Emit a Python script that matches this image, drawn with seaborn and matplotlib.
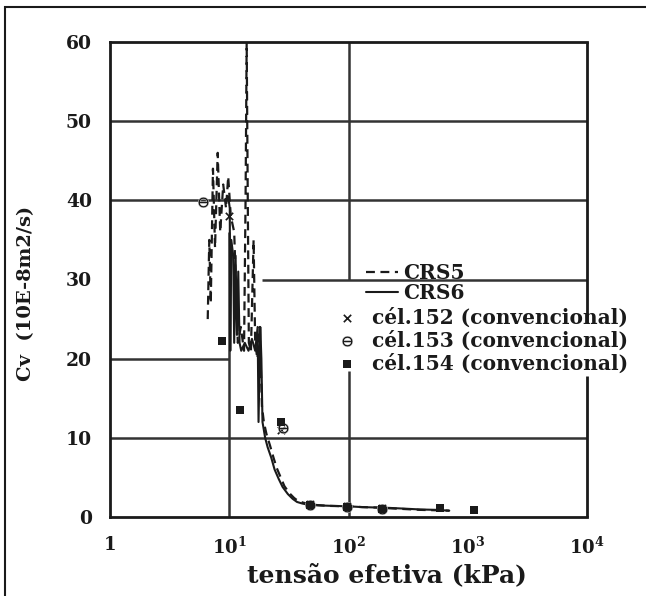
import matplotlib
matplotlib.use("Agg")
import matplotlib.pyplot as plt
import matplotlib.patches as mpatches
from matplotlib.ticker import FixedLocator, LogLocator, MultipleLocator, NullFormatter, FixedFormatter
import seaborn as sns
import pandas as pd

# ---------------- data ----------------
crs5_x = [6.6, 6.8, 7.0, 7.3, 7.6, 8.0, 8.4, 8.9, 9.4, 9.8, 10.3, 11.0, 11.8, 12.5,
          13.3, 13.7, 14.0, 14.3, 14.6, 15.2, 16.0, 16.5, 17.2, 18.0, 18.8, 19.5,
          20.5, 22, 23.5, 25, 27, 29, 32, 35, 38, 42, 48, 55, 70, 100, 130, 170,
          220, 300, 400, 550, 700]
crs5_cv = [25, 35, 27, 44, 34, 46, 36, 42, 39, 43, 38, 36, 22, 24,
           21, 40, 60, 40, 22, 21, 35, 22, 20, 24, 14, 12,
           10.5, 9, 7.5, 6.2, 5.0, 3.9, 3.0, 2.4, 2.0, 1.8, 1.6, 1.5, 1.4, 1.35, 1.25, 1.2,
           1.1, 1.0, 0.9, 0.85, 0.8]

crs6_x = [9.4, 9.8, 10.1, 10.2, 10.4, 10.8, 11.0, 11.3, 11.6, 11.9, 12.2, 12.6, 13.5,
          14.5, 15.5, 16.5, 17.3, 17.6, 18.2, 18.6, 19.0, 19.5, 20, 21, 22.5, 24, 26,
          28, 31, 34, 37, 41, 46, 52, 60, 75, 100, 130, 170, 220, 300, 400, 550, 700]
crs6_cv = [40, 40.5, 39, 21, 35, 33, 22, 33, 23, 31, 22, 21, 22,
           21, 22.5, 21, 24, 12, 24, 20, 12, 11, 10, 8.8, 7.5, 6.0, 4.8,
           3.8, 2.9, 2.3, 1.9, 1.7, 1.55, 1.5, 1.45, 1.4, 1.35, 1.25, 1.2, 1.15, 1.05, 0.95, 0.9, 0.8]

cel152_x = [10.0, 27, 48, 98, 190]
cel152_cv = [38, 11.0, 1.6, 1.4, 1.1]
cel153_x = [6.0, 28, 48, 98, 190]
cel153_cv = [39.8, 11.3, 1.5, 1.3, 1.0]
cel154_x = [8.7, 12.4, 27, 48, 98, 190, 580, 1120]
cel154_cv = [22.2, 13.5, 12.0, 1.5, 1.3, 1.0, 1.1, 0.9]

x_ticks = [1, 10, 100, 1000, 10000]
x_tick_labels = ["1", r"$\mathbf{10^{1}}$", r"$\mathbf{10^{2}}$", r"$\mathbf{10^{3}}$", r"$\mathbf{10^{4}}$"]
y_ticks = [0, 10, 20, 30, 40, 50, 60]
y_tick_labels = ["0", "10", "20", "30", "40", "50", "60"]

x_label = "tensão efetiva (kPa)"
y_label = "Cv  (10E-8m2/s)"
legend_labels = ["CRS5", "CRS6", "cél.152 (convencional)", "cél.153 (convencional)", "cél.154 (convencional)"]

# ---------------- style ----------------
sns.set_theme(style="white")
plt.rcParams["font.family"] = ["DejaVu Serif", "DejaVu Sans"]
plt.rcParams["font.weight"] = "bold"
plt.rcParams["mathtext.fontset"] = "dejavuserif"
ink = "#1a1a1a"

W, H = 646, 596
fig = plt.figure(figsize=(W / 100, H / 100), dpi=100)
ax = fig.add_axes([110 / W, 1 - 517 / H, 477 / W, 475 / H])

# outer border of the figure (left and top visible)
fig.patches.append(mpatches.Rectangle((5 / W, -0.05), 1.2, 1.05 - 7 / H,
                                      transform=fig.transFigure, fill=False,
                                      edgecolor=ink, lw=1.5, zorder=0))

ax.set_xscale("log")
ax.set_xlim(1, 1e4)
ax.set_ylim(0, 60)

# grid segments (partially drawn, as in the original)
glw = 1.8
gcol = "#333333"
ax.hlines([y_ticks[5], y_ticks[4], y_ticks[1]], x_ticks[0], x_ticks[-1], color=gcol, lw=glw, zorder=1)
ax.hlines(y_ticks[2], x_ticks[0], x_ticks[1], color=gcol, lw=glw, zorder=1)
ax.hlines(y_ticks[3], 19, x_ticks[-1], color=gcol, lw=glw, zorder=1)
ax.vlines(x_ticks[1], 0, 36, color=gcol, lw=glw, zorder=1)
ax.vlines(x_ticks[2], 30, 60, color=gcol, lw=glw, zorder=1)
ax.vlines(x_ticks[2], 0, 18.5, color=gcol, lw=glw, zorder=1)
ax.vlines(x_ticks[-1], 24.5, 60, color=ink, lw=2, zorder=1, clip_on=False)
ax.vlines(x_ticks[-1], 0, 17.8, color=ink, lw=2, zorder=1, clip_on=False)

df5 = pd.DataFrame({"x": crs5_x, "cv": crs5_cv})
df6 = pd.DataFrame({"x": crs6_x, "cv": crs6_cv})
sns.lineplot(data=df5, x="x", y="cv", ax=ax, color=ink, lw=1.6, sort=False,
             estimator=None, label=legend_labels[0], zorder=3)
ax.lines[-1].set_dashes([4, 2.5])
sns.lineplot(data=df6, x="x", y="cv", ax=ax, color=ink, lw=1.5, sort=False,
             estimator=None, label=legend_labels[1], zorder=3)

sns.scatterplot(x=cel152_x, y=cel152_cv, ax=ax, marker="x", color=ink, s=28,
                linewidth=1.2, label=legend_labels[2], zorder=4)
sns.scatterplot(x=cel153_x, y=cel153_cv, ax=ax, marker=r"$\ominus$", color=ink, s=60,
                linewidth=0.3, label=legend_labels[3], zorder=4)
sns.scatterplot(x=cel154_x, y=cel154_cv, ax=ax, marker="s", color=ink, s=30,
                linewidth=0, label=legend_labels[4], zorder=4)

# spines
for side in ["top", "left", "bottom"]:
    ax.spines[side].set_color(ink)
    ax.spines[side].set_linewidth(2)
ax.spines["right"].set_visible(False)

# ticks
ax.xaxis.set_major_locator(FixedLocator(x_ticks))
ax.xaxis.set_major_formatter(FixedFormatter(x_tick_labels))
ax.xaxis.set_minor_locator(LogLocator(base=10, subs=range(2, 10)))
ax.xaxis.set_minor_formatter(NullFormatter())
ax.yaxis.set_major_locator(FixedLocator(y_ticks))
ax.yaxis.set_major_formatter(FixedFormatter(y_tick_labels))
ax.yaxis.set_minor_locator(MultipleLocator(1))
ax.tick_params(axis="both", which="major", direction="out", length=8, width=1.6, color=ink)
ax.tick_params(axis="both", which="minor", direction="out", length=5, width=1.3, color=ink)
ax.tick_params(axis="y", which="major", labelsize=13.5, pad=5)
ax.tick_params(axis="x", which="major", labelsize=13, pad=6)
for lab in ax.get_xticklabels() + ax.get_yticklabels():
    lab.set_fontweight("bold")
    lab.set_color(ink)

ax.set_xlabel(x_label, fontsize=18, fontweight="bold", color=ink)
ax.xaxis.set_label_coords(0.58, -0.098)
ax.xaxis.label.set_va("top")
ax.set_ylabel(y_label, fontsize=14, fontweight="bold", color=ink)
ax.yaxis.set_label_coords(-0.158, 0.47)

handles, labels = ax.get_legend_handles_labels()
prop = {"family": "DejaVu Serif", "weight": "bold", "size": 14.5}
leg1 = ax.legend(handles[:2], labels[:2], loc="upper left",
                 bbox_to_anchor=(356 / W, 1 - 253 / H), bbox_transform=fig.transFigure,
                 frameon=False, handlelength=1.6, handletextpad=0.25,
                 labelspacing=0.0, borderpad=0, prop=prop)
ax.add_artist(leg1)
leg2 = ax.legend(handles[2:], labels[2:], loc="upper left",
                 bbox_to_anchor=(327 / W, 1 - 297 / H), bbox_transform=fig.transFigure,
                 frameon=False, handlelength=1.0, handletextpad=0.72,
                 labelspacing=0.15, borderpad=0, prop=prop)
for lg in (leg1, leg2):
    for t in lg.get_texts():
        t.set_color(ink)

fig.savefig("out.png", dpi=100)
